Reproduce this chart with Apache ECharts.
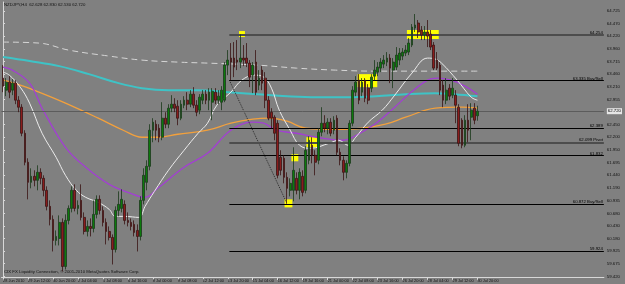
<!DOCTYPE html>
<html>
<head>
<meta charset="utf-8">
<script src="https://cdn.jsdelivr.net/npm/echarts@6/dist/echarts.min.js"></script>
<style>
html,body{margin:0;padding:0;background:#808080;}
#main{width:625px;height:284px;}
</style>
</head>
<body>
<div id="main"></div>
<script>
// NZDJPY H4 candles: [open, close, low, high]
var candles = [
[63.38,63.22,63.10,63.64],[63.14,63.30,63.02,63.38],[63.30,63.10,62.98,63.42],[63.14,63.28,63.04,63.36],
[63.28,62.94,62.86,63.34],[62.94,62.80,62.70,63.02],[62.80,62.28,62.22,62.86],[62.28,61.70,61.64,62.34],
[61.70,61.30,60.96,61.78],[61.30,61.42,61.18,61.58],[61.42,61.34,61.22,61.54],[61.34,61.50,61.14,61.64],
[61.50,61.38,61.26,61.58],[61.38,61.14,61.02,61.44],[61.14,60.82,60.74,61.22],[60.82,60.56,60.44,60.94],
[60.56,60.14,59.92,60.64],[60.14,60.22,60.04,60.34],[60.18,60.50,60.04,60.64],[60.50,59.62,59.52,60.58],
[59.62,60.54,59.56,60.66],[60.54,60.78,60.46,60.84],[60.78,61.14,60.70,61.22],[61.14,60.78,60.72,61.26],
[60.78,60.84,60.66,60.94],[60.94,60.60,60.54,61.26],[60.60,60.32,60.26,60.70],[60.32,60.42,60.22,60.54],
[60.42,60.38,60.22,60.58],[60.38,60.66,60.30,60.94],[60.66,60.96,60.58,61.04],[60.96,60.74,60.66,61.04],
[60.74,60.50,60.42,60.82],[60.50,60.32,60.06,60.58],[60.32,60.20,60.14,60.42],[60.20,59.96,59.66,60.26],
[59.96,60.74,59.90,60.82],[60.74,60.86,60.62,61.12],[60.78,60.96,60.70,61.16],[60.86,60.54,60.46,60.94],
[60.54,60.50,60.42,60.70],[60.50,60.42,60.34,60.58],[60.46,60.30,60.22,60.54],[60.34,60.22,59.92,60.46],
[60.22,60.94,60.14,61.02],[60.94,61.44,60.86,61.58],[61.30,61.62,61.14,61.74],[61.62,62.34,61.54,62.46],
[62.34,62.50,62.10,62.58],[62.46,62.34,62.14,62.54],[62.38,62.20,62.10,62.46],[62.20,62.58,62.14,62.90],
[62.58,62.46,62.38,62.70],[62.46,62.78,62.38,62.86],[62.78,62.86,62.70,63.04],[62.86,62.78,62.70,62.98],
[62.82,62.58,62.44,62.94],[62.58,62.86,62.54,62.94],[62.84,62.94,62.78,63.02],[62.94,62.86,62.74,63.10],
[62.86,63.06,62.80,63.14],[63.06,62.84,62.78,63.20],[62.84,62.70,62.62,62.94],[62.74,63.00,62.66,63.06],
[62.94,63.06,62.86,63.14],[63.06,62.94,62.86,63.14],[62.94,63.10,62.74,63.18],[62.90,63.12,62.54,63.18],
[63.10,62.94,62.86,63.18],[62.94,63.02,62.86,63.14],[62.90,63.14,62.74,63.22],[62.94,63.64,62.90,63.70],
[63.64,63.74,63.44,63.94],[63.78,63.70,63.34,64.08],[63.78,63.60,63.40,64.10],[63.74,63.70,63.54,64.14],
[63.70,63.78,63.58,64.254],[63.78,63.74,63.62,64.04],[63.78,63.68,63.60,64.08],[63.68,63.40,63.20,63.74],
[63.44,63.64,63.08,63.70],[63.70,63.10,63.04,63.94],[63.24,63.38,63.14,63.54],[63.54,63.28,63.14,63.62],
[63.38,62.94,62.78,63.50],[62.94,62.58,62.54,63.02],[62.70,62.58,62.38,62.78],[62.60,62.28,62.14,62.64],
[62.48,61.44,61.38,62.54],[61.80,61.54,61.44,61.94],[61.78,61.40,61.28,61.84],[61.40,61.18,60.872,61.50],
[61.14,61.28,61.02,61.38],[61.14,61.54,60.92,62.00],[61.38,61.14,61.06,61.50],[61.14,61.50,60.96,61.58],
[61.42,61.10,61.02,61.54],[61.14,61.94,61.08,62.02],[61.74,62.14,61.66,62.22],[62.04,61.84,61.68,62.20],
[61.84,61.70,61.44,61.94],[61.74,62.30,61.66,62.38],[62.30,62.48,62.22,62.80],[62.48,62.38,62.30,62.64],
[62.38,62.50,62.26,62.58],[62.50,62.28,62.22,62.58],[62.34,62.54,62.26,62.62],[62.58,61.90,61.84,62.64],
[61.90,61.74,61.64,61.98],[61.74,61.50,61.34,61.82],[61.50,61.68,61.38,61.74],[61.68,62.48,61.62,62.54],
[62.48,63.14,62.42,63.22],[63.10,63.30,63.02,63.42],[63.34,62.94,62.86,63.46],[63.10,63.30,63.02,63.38],
[63.34,62.98,62.90,63.38],[63.18,62.94,62.86,63.26],[63.18,63.40,63.10,63.46],[63.42,63.54,63.34,63.74],
[63.50,63.60,63.42,63.70],[63.58,63.70,63.50,63.78],[63.66,63.74,63.58,63.84],[63.70,63.78,63.62,63.90],
[63.78,63.58,63.28,63.86],[63.54,63.70,63.18,63.78],[63.60,63.84,63.54,64.00],[63.74,63.88,63.64,63.98],
[63.82,63.90,63.74,63.98],[63.88,63.94,63.82,64.04],[63.90,64.08,63.84,64.18],[64.04,64.40,64.00,64.46],
[64.38,64.44,64.30,64.66],[64.48,64.30,64.18,64.54],[64.34,64.24,64.14,64.42],[64.24,64.30,64.14,64.42],
[64.30,64.22,64.00,64.54],[64.26,64.00,63.94,64.34],[64.04,63.58,63.54,64.10],[63.74,63.58,63.54,63.90],
[63.64,63.14,63.04,63.70],[63.24,62.94,62.80,63.34],[62.94,63.14,62.86,63.38],[63.18,63.02,62.94,63.26],
[63.04,63.18,62.98,63.38],[63.04,62.84,62.48,63.14],[62.80,62.08,62.02,62.86],[62.54,62.04,61.98,62.58],
[62.04,62.54,62.00,62.64],[62.54,62.34,62.10,62.86],[62.60,62.74,62.14,62.88],[62.78,62.54,62.46,62.88],
[62.628,62.720,62.530,62.830]
];

// time labels, one every 8 bars
var timeLabels = ['28 Jun 2010','29 Jun 12:00','30 Jun 20:00','2 Jul 04:00','5 Jul 08:00','6 Jul 16:00',
  '8 Jul 00:00','9 Jul 08:00','12 Jul 12:00','13 Jul 20:00','15 Jul 04:00','16 Jul 12:00','19 Jul 16:00',
  '21 Jul 00:00','22 Jul 08:00','23 Jul 16:00','26 Jul 20:00','28 Jul 04:00','29 Jul 12:00','30 Jul 20:00'];

// price scale labels
var priceTicks = [64.725,64.470,64.220,63.960,63.715,63.460,63.210,62.955,62.720,62.450,62.200,
  61.950,61.695,61.440,61.190,60.935,60.680,60.430,60.180,59.925,59.675,59.420];

var lastPrice = 62.720;

// moving averages, [bar, price]
var maWhite = [[0,63.50],[2,63.44],[5.5,63.20],[8.5,62.88],[12.5,62.28],[17,61.80],[20,61.44],[23.5,61.14],
  [26.5,61.00],[30.5,60.90],[34,60.76],[36,60.62],[39,60.62],[43.5,60.60],[45.5,60.82],[48.5,61.12],
  [53,61.54],[58,61.94],[62.5,62.28],[65.5,62.48],[68.5,62.84],[73,63.10],[76.5,63.34],[80.5,63.44],
  [83.5,63.40],[86,63.18],[88.5,62.74],[92,62.34],[95,62.04],[98.5,61.98],[104.5,62.08],[107.5,62.14],
  [110.5,62.04],[113,62.20],[117,62.50],[121.5,62.74],[125.5,63.04],[131,63.48],[136,63.78],[138.5,63.76],
  [140.5,63.68],[145.5,63.34],[150,63.00],[152,62.94]];
var maPurple = [[0,63.60],[3,63.54],[8.5,63.28],[12.5,62.78],[20,62.00],[26.5,61.60],[34,61.26],[40,61.10],
  [45.5,61.00],[49.5,61.18],[58,61.60],[65.5,61.88],[73,62.34],[80,62.50],[83.5,62.48],[87.5,62.34],
  [94,62.28],[100.5,62.20],[109,62.14],[112,62.20],[119.5,62.48],[125.5,62.80],[130,63.06],[136,63.34],
  [139,63.38],[143.5,63.34],[148,63.22],[152,63.06]];
var maOrange = [[0,63.34],[5.5,63.24],[11.5,63.10],[20,62.88],[30.5,62.58],[38.5,62.34],[44.5,62.20],
  [49.5,62.20],[56,62.26],[65.5,62.34],[73,62.48],[80,62.56],[85.5,62.58],[91,62.52],[97,62.38],
  [106.5,62.36],[115,62.38],[122.5,62.46],[129,62.60],[138.5,62.78],[147,62.80],[152,62.78]];
var maCyan = [[0,63.80],[8.5,63.72],[18,63.62],[27.5,63.46],[37,63.28],[44.5,63.18],[53,63.14],[62.5,63.14],
  [72,63.10],[81.5,63.06],[91,63.02],[100.5,63.00],[110,63.00],[119.5,63.02],[129,63.06],[138.5,63.08],
  [144.5,63.06],[152,63.02]];
var maDashed = [[0,64.10],[11.5,64.08],[21,63.94],[34,63.82],[44.5,63.74],[56,63.70],[65.5,63.68],
  [81.5,63.64],[94,63.58],[106.5,63.54],[119.5,63.52],[132,63.52],[152,63.52]];

// horizontal levels drawn from bar 72.5 to the right edge
var levelPrices = [64.254, 63.335, 62.389, 62.099, 61.832, 60.872, 59.924];
var levelNames = ['64.254', '63.335 Buy/Sell', '62.389', '62.099 Pivot', '61.832', '60.872 Buy/Sell', '59.924'];
var levelStart = 72.5;

// yellow boxes: [barFrom, barTo, priceTop, priceBottom]
var boxes = [[75.6,77.5,64.32,64.20],[113.6,119.9,63.46,63.20],[129.4,139.6,64.34,64.16],
  [97.2,100.6,62.20,62.00],[92.4,94.6,61.86,61.72],[90.2,92.7,60.96,60.80]];

// dotted trendline
var trend = [[72.5,63.34],[90.8,60.90]];

var header = 'NZDJPY,H4  62.628 62.830 62.530 62.720';
var footer = 'CIX FX Liquidity Connection, \u00a9 2001-2010 MetaQuotes Software Corp.';

var slots = candles.length + 40;
var cats = [];
for (var i = 0; i < slots; i++) cats.push(String(i));

var font = 'Liberation Sans';
var fg = '#111';

function showTime(idx) {
  return idx % 8 === 0 && idx / 8 < timeLabels.length;
}

var levelData = levelPrices.map(function (p, k) {
  var thick = (k === 0 || k === 3);
  return [
    {coord: [levelStart, p], name: levelNames[k],
     lineStyle: {color: thick ? '#4d4d4d' : '#000', width: thick ? 2 : 1.2, type: 'solid'}},
    {coord: [slots - 0.5, p]}
  ];
});

var boxData = boxes.map(function (b) {
  return [{coord: [b[0], b[2]]}, {coord: [b[1], b[3]]}];
});

function maSeries(data, color, width, dash) {
  return {
    type: 'line', xAxisIndex: 1, yAxisIndex: 0, data: data, smooth: 0.4,
    showSymbol: false, silent: true, z: 3,
    lineStyle: {color: color, width: width, type: dash || 'solid'}
  };
}

var chart = echarts.init(document.getElementById('main'), null, {renderer: 'canvas'});
chart.setOption({
  animation: false,
  backgroundColor: '#808080',
  grid: {left: 1.5, right: 15, top: 2, bottom: 7},
  xAxis: [{
    type: 'category', data: cats, boundaryGap: true,
    axisLine: {show: true, lineStyle: {color: '#d8d8d8', width: 1}},
    axisTick: {show: true, alignWithLabel: true, length: 3, lineStyle: {color: '#d8d8d8'}, interval: showTime},
    axisLabel: {show: true, fontSize: 3.9, fontFamily: font, color: fg, align: 'left', margin: 1.5,
      showMinLabel: true, hideOverlap: false, interval: showTime,
      formatter: function (v, idx) { return showTime(idx) ? timeLabels[idx / 8] : ''; }},
    splitLine: {show: false}
  }, {
    type: 'value', min: -0.5, max: slots - 0.5, show: false
  }],
  yAxis: [{
    type: 'value', position: 'right', min: 59.41, max: 64.90, scale: true,
    axisLine: {show: true, lineStyle: {color: '#d8d8d8', width: 1}},
    axisTick: {show: true, length: 2, lineStyle: {color: '#d8d8d8'}, customValues: priceTicks},
    axisLabel: {fontSize: 4.3, fontFamily: font, color: fg, margin: 3, customValues: priceTicks,
      formatter: function (v) {
        var s = v.toFixed(3);
        return Math.abs(v - lastPrice) < 1e-6 ? '{hl|' + s + '}' : s;
      },
      rich: {hl: {fontSize: 4.3, fontFamily: font, color: '#000', backgroundColor: '#e6e6e6', padding: [1, 1]}}},
    splitLine: {show: false}
  }],
  graphic: [
    {type: 'text', left: 4, top: 3, style: {text: header, font: '4.3px ' + font, fill: fg}},
    {type: 'text', left: 4, top: 269.5, style: {text: footer, font: '4.3px ' + font, fill: fg}}
  ],
  series: [
    maSeries(maDashed, '#d6d6d6', 1, [6, 4]),
    maSeries(maCyan, '#3ec3c6', 2),
    maSeries(maOrange, '#f2a03c', 1.3),
    maSeries(maPurple, '#a23fd2', 1.3),
    maSeries(maWhite, '#ececec', 1),
    {
      type: 'candlestick', xAxisIndex: 0, yAxisIndex: 0, data: candles, barWidth: 2.2, z: 5,
      itemStyle: {color: '#0c7a0c', color0: '#8a1c1c', borderColor: '#1c3a1c', borderColor0: '#3a1414', borderWidth: 0.8},
      markLine: {silent: true, symbol: 'none', label: {show: false},
        lineStyle: {color: '#5c5c5c', width: 1, type: 'solid'},
        data: [{yAxis: lastPrice}]}
    },
    {
      type: 'line', xAxisIndex: 1, yAxisIndex: 0, data: trend, showSymbol: false, silent: true, z: 4,
      lineStyle: {color: '#2a2a2a', width: 1, type: 'dotted'},
      markLine: {silent: true, symbol: 'none',
        label: {show: true, position: 'insideEndTop', distance: [1, 0], fontSize: 4.3, fontFamily: font, color: '#000',
          formatter: function (p) { return p.name; }},
        data: levelData},
      markArea: {silent: true, itemStyle: {color: '#ffff00', opacity: 1}, data: boxData}
    }
  ]
});
</script>
</body>
</html>
